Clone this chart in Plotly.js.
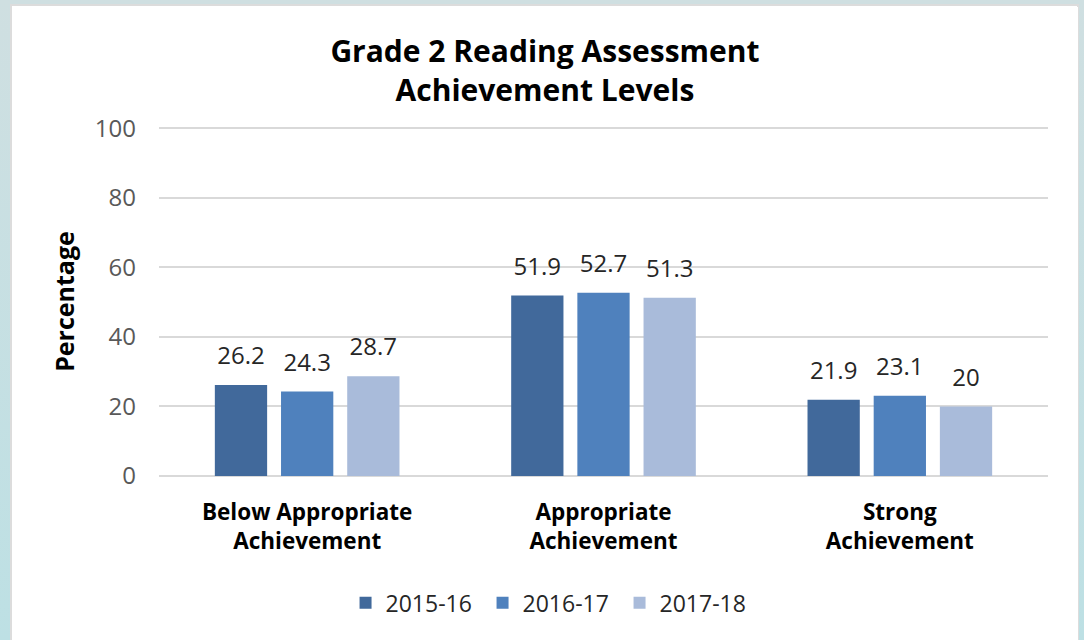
<!DOCTYPE html>
<html>
<head>
<meta charset="utf-8">
<script src="https://cdn.plot.ly/plotly-3.0.1.min.js"></script>
<style>
  html, body { margin: 0; padding: 0; width: 1084px; height: 640px; overflow: hidden;
    background: linear-gradient(to bottom, #cfdfe1 0%, #bde0e4 100%); }
  #frame { position: absolute; left: 10px; top: 4px; width: 1069px; height: 636px;
    background: #fff; border-left: 2px solid #dcdcdc; border-top: 2px solid #dcdcdc; border-right: 2px solid #dcdcdc; box-sizing: border-box; }
  #chart { position: absolute; left: 1px; top: 1px; width: 1065px; height: 634px; }
</style>
</head>
<body>
<div id="frame"><div id="chart"></div></div>
<script>
const categories = ["Below Appropriate<br>Achievement", "Appropriate<br>Achievement", "Strong<br>Achievement"];
const seriesNames = ["2015-16", "2016-17", "2017-18"];
const values2015 = [26.2, 51.9, 21.9];
const values2016 = [24.3, 52.7, 23.1];
const values2017 = [28.7, 51.3, 20];
const yTicks = [0, 20, 40, 60, 80, 100];
const colors = ["#41699b", "#4f81bd", "#a9bbda"];

const FONT = "'Open Sans', 'Noto Sans', sans-serif";
const allValues = [values2015, values2016, values2017];

const barTraces = allValues.map((vals, i) => ({
  type: "bar",
  name: seriesNames[i],
  x: categories,
  y: vals,
  marker: { color: colors[i], line: { width: 0 } },
  hoverinfo: "none"
}));

const labelTraces = allValues.map((vals, i) => ({
  type: "scatter",
  mode: "markers+text",
  showlegend: false,
  x: categories,
  y: vals,
  text: vals.map(v => String(v)),
  textposition: "top center",
  cliponaxis: false,
  marker: { size: 22, opacity: 0 },
  textfont: { family: FONT, size: 24, color: "#262626" },
  hoverinfo: "none"
}));

const layout = {
  width: 1065, height: 634,
  paper_bgcolor: "#ffffff",
  plot_bgcolor: "#ffffff",
  margin: { l: 146, r: 30, t: 120, b: 165 },
  barmode: "group",
  bargap: 0.33,
  bargroupgap: 0.21,
  scattermode: "group",
  scattergap: 0.33,
  font: { family: FONT, color: "#262626" },
  title: {
    text: "<b>Grade 2 Reading Assessment<br>Achievement Levels</b>",
    font: { family: FONT, size: 30, color: "#000000" },
    x: 0.4995, xanchor: "center", xref: "container",
    y: 0.9135, yanchor: "middle", yref: "container"
  },
  xaxis: {
    type: "category",
    showgrid: false,
    showline: false,
    zeroline: false,
    ticks: "",
    ticklabelstandoff: 20,
    tickfont: { family: FONT, size: 22.5, color: "#000000", weight: "bold" }
  },
  yaxis: {
    range: [0, 100.4],
    tickvals: yTicks,
    ticktext: yTicks.map(String),
    showgrid: true,
    gridcolor: "#d9d9d9",
    gridwidth: 2,
    zeroline: true,
    zerolinecolor: "#d9d9d9",
    zerolinewidth: 2,
    showline: false,
    ticks: "",
    ticklabelstandoff: 22,
    tickfont: { family: FONT, size: 24, color: "#595959" },
    title: { text: "<b>Percentage</b>", font: { family: FONT, size: 25, color: "#000000" }, standoff: 13 }
  },
  showlegend: true,
  legend: {
    orientation: "h",
    x: 0.441, xanchor: "center",
    y: -0.3635, yanchor: "middle",
    font: { family: FONT, size: 23, color: "#262626" },
    itemwidth: 30,
    entrywidth: 92,
    entrywidthmode: "pixels",
    traceorder: "normal"
  }
};

Plotly.newPlot("chart", barTraces.concat(labelTraces), layout, { displayModeBar: false, staticPlot: true });
</script>
</body>
</html>
